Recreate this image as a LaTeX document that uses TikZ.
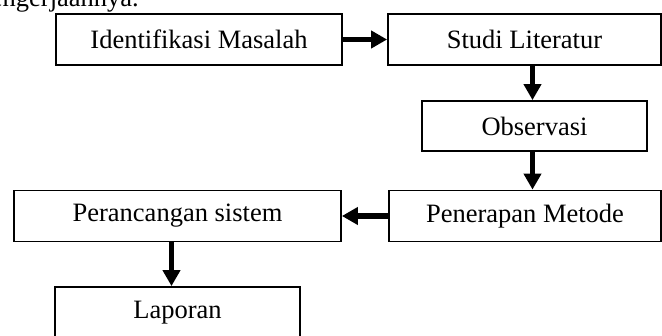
\documentclass[tikz,border=0pt]{standalone}
\usepackage{fontspec}
\setmainfont{Liberation Serif}
\usetikzlibrary{arrows.meta}
\tikzset{
  box/.style={draw, line width=1.8pt, rectangle, inner sep=0pt, align=center,
    font=\fontsize{26.5}{30}\selectfont},
  arr/.style={line width=5.5pt, -{Triangle[length=16pt, width=17pt]}},
}
\begin{document}
\begin{tikzpicture}[x=1pt, y=-1pt]
\useasboundingbox (0,0) rectangle (662,336);
\clip (0,0) rectangle (662,336);
\node[anchor=base east, inner sep=0pt, font=\fontsize{26.5}{30}\selectfont] (cap) at (139,7) {pengerjaannya.};
\node[box, minimum width=286pt, minimum height=51pt] (id) at (199,39.5) {Identifikasi Masalah};
\node[box, minimum width=273pt, minimum height=51pt] (st) at (524.5,39.5) {Studi Literatur};
\node[box, minimum width=225pt, minimum height=50pt] (ob) at (534.5,126) {Observasi};
\node[box, minimum width=272pt, minimum height=51pt] (pe) at (525,216) {Penerapan Metode};
\node[box, minimum width=327pt, minimum height=51pt] (pr) at (177.5,216) {Perancangan sistem};
\node[box, minimum width=245pt, minimum height=51pt] (la) at (177.5,312.5) {Laporan};
\draw[arr] (id.east) -- (st.west);
\draw[arr] ([xshift=-2pt]st.south -| ob.north) -- ([xshift=-2pt]ob.north);
\draw[arr] ([xshift=-2pt]ob.south) -- ([xshift=-2pt]ob.south |- pe.north);
\draw[arr] (pe.west) -- (pr.east);
\draw[arr] ([xshift=-6pt]pr.south) -- ([xshift=-6pt]la.north);
\end{tikzpicture}
\end{document}
